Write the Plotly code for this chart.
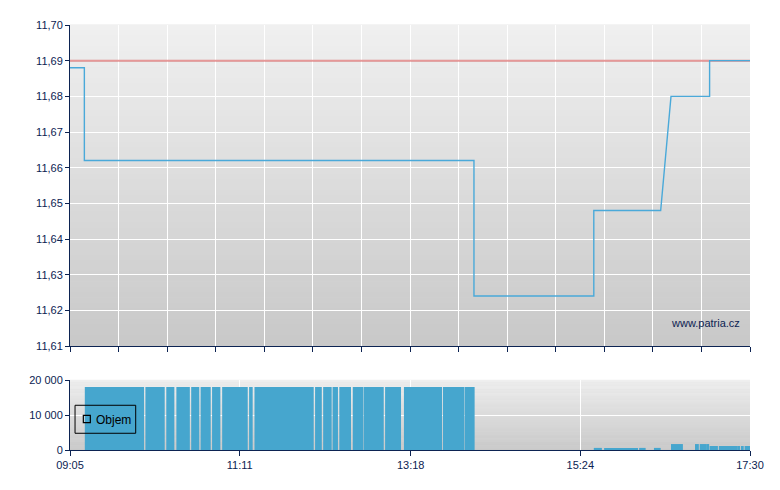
import plotly.graph_objects as go

# price during the day (step line, times as HH:MM[:SS])
price_times = ["09:05", "09:15:40", "09:15:40", "14:05", "14:05", "15:34", "15:34",
               "16:23:40", "16:31:20", "17:00", "17:00", "17:30"]
price_vals = [11.688, 11.688, 11.662, 11.662, 11.624, 11.624, 11.648,
              11.648, 11.680, 11.680, 11.690, 11.690]

prev_close = 11.69

# volume bars: start, end, volume
vol_start = ["09:16", "10:01", "10:16:30", "10:24", "10:35", "10:42", "10:50:30", "10:58",
             "11:18", "11:22", "12:07", "12:13", "12:20", "12:25", "12:35", "12:43",
             "12:59", "13:13", "13:42", "13:58",
             "15:34", "15:41:40", "16:07:40", "16:18:40", "16:31:20", "16:49:10",
             "16:52:40", "16:58:40", "17:00", "17:06:50", "17:21:40", "17:23:20", "17:26"]
vol_end = ["10:00", "10:15:20", "10:22:30", "10:34", "10:41", "10:49:30", "10:56:40", "11:17",
           "11:20:40", "12:06", "12:12", "12:19:20", "12:24", "12:33:40", "12:42:40", "12:58",
           "13:10:50", "13:41:20", "13:57:40", "14:05:30",
           "15:40", "16:06:50", "16:12:30", "16:23:40", "16:40:10", "16:52",
           "16:58", "16:59:40", "17:06:10", "17:21", "17:22:40", "17:25:20", "17:30"]
vol_vals = [18000] * 20 + [600, 600, 600, 600, 1700, 1700, 1700, 1700,
                           1150, 1150, 1150, 1150, 1150]

x_labels = ["09:05", "11:11", "13:18", "15:24", "17:30"]

START = "09:05"
END = "17:30"
NAVY = "#0c2352"
FONT = "Liberation Sans, Arial"


def minutes(t):
    # minutes since session start
    p = [int(v) for v in t.split(":")]
    while len(p) < 3:
        p.append(0)
    s = p[0] * 60 + p[1] + p[2] / 60.0
    h0, m0 = START.split(":")
    return s - (int(h0) * 60 + int(m0))


xmax = minutes(END)
px_ = [minutes(t) for t in price_times]
v0 = [minutes(t) for t in vol_start]
v1 = [minutes(t) for t in vol_end]
vw = [b - a for a, b in zip(v0, v1)]

fig = go.Figure()

# reference line (previous close)
fig.add_trace(go.Scatter(x=[0, xmax], y=[prev_close, prev_close], mode="lines",
                         line=dict(color="rgba(205,50,50,0.5)", width=2),
                         showlegend=False, hoverinfo="skip", xaxis="x", yaxis="y"))
fig.add_trace(go.Scatter(x=px_, y=price_vals, mode="lines",
                         line=dict(color="#4aa9d9", width=1.4),
                         showlegend=False, xaxis="x", yaxis="y"))

fig.add_trace(go.Bar(x=v0, y=vol_vals, width=vw, offset=0, name="Objem",
                     marker=dict(color="#46a6ce", line=dict(width=0)),
                     showlegend=False, xaxis="x2", yaxis="y2"))

# gradient backgrounds as thin bands
shapes = []
n = 60
for xr, yr, c_top, c_bot in [("x domain", "y domain", 240, 200),
                             ("x2 domain", "y2 domain", 239, 200)]:
    for i in range(n):
        g = round(c_top + (c_bot - c_top) * (i + 0.5) / n)
        shapes.append(dict(type="rect", xref=xr, yref=yr, x0=0, x1=1,
                           y0=1 - (i + 1) / n, y1=1 - i / n + 0.002,
                           fillcolor="rgb(%d,%d,%d)" % (g, g, g),
                           line=dict(width=0), layer="below"))

# hand-made legend box for the volume panel
shapes.append(dict(type="rect", xref="x2 domain", yref="y2 domain",
                   x0=0.0074, x1=0.0966, y0=0.239, y1=0.639,
                   line=dict(color="black", width=1), layer="above"))
shapes.append(dict(type="rect", xref="x2 domain", yref="y2 domain",
                   x0=0.0196, x1=0.0299, y0=0.39, y1=0.496,
                   line=dict(color="black", width=1.2), layer="above"))

axis_common = dict(showline=True, linecolor=NAVY, linewidth=1, ticks="outside",
                   tickcolor=NAVY, gridcolor="white", gridwidth=1, zeroline=False,
                   tickfont=dict(family=FONT, size=11, color=NAVY))

# page has an 8px body margin, so the figure is 8px smaller and margins shifted
fig.update_layout(
    width=772, height=482,
    margin=dict(l=62, r=30, t=17, b=40),
    paper_bgcolor="white", plot_bgcolor="#dcdcdc",
    separators=", ",
    shapes=shapes,
    xaxis=dict(axis_common, range=[0, xmax], anchor="y", domain=[0, 1],
               tickvals=[xmax * k / 14 for k in range(15)], showticklabels=False,
               ticklen=5),
    yaxis=dict(axis_common, range=[11.61, 11.70], dtick=0.01, tickformat=".2f",
               domain=[0.2447, 1], ticklen=4),
    xaxis2=dict(axis_common, range=[0, xmax], anchor="y2", domain=[0, 1],
                tickvals=[minutes(t) for t in x_labels], ticktext=x_labels, ticklen=5),
    yaxis2=dict(axis_common, range=[0, 20000], tickvals=[0, 10000, 20000],
                tickformat=",.0f", domain=[0, 0.1647], ticklen=4),
    showlegend=False,
    annotations=[
        dict(text="www.patria.cz", xref="x domain", yref="y domain",
             x=0.988, y=0.072, xanchor="right", yanchor="middle", showarrow=False,
             font=dict(family=FONT, size=11, color=NAVY)),
        dict(text="Objem", xref="x2 domain", yref="y2 domain",
             x=0.0357, y=0.433, xanchor="left", yanchor="middle", showarrow=False,
             font=dict(family=FONT, size=12, color="black")),
    ],
)

fig.write_html("out.html")
